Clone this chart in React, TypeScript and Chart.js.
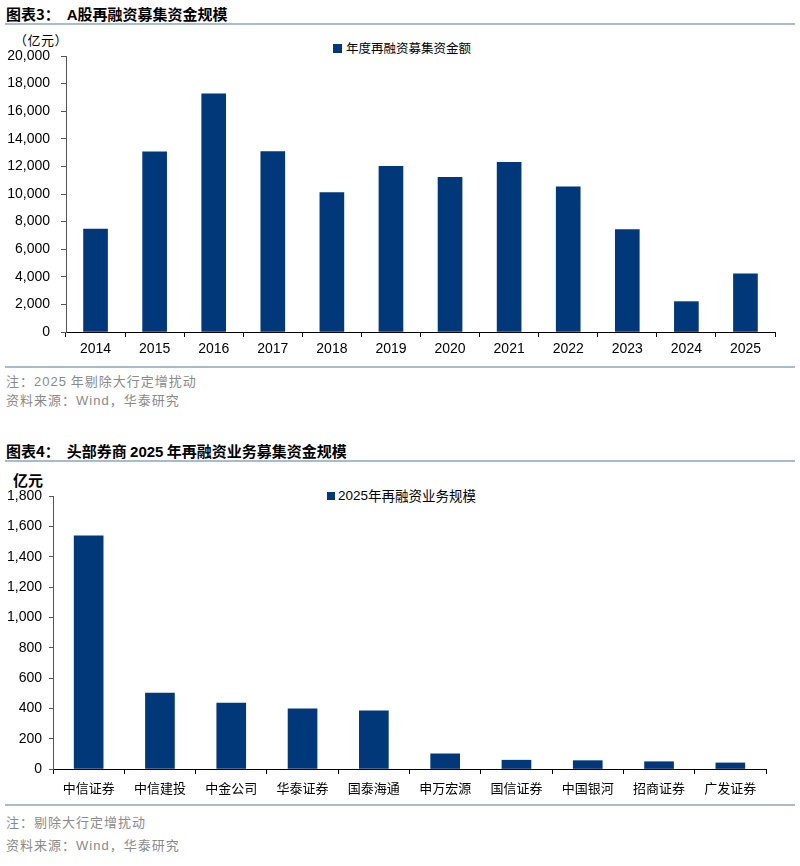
import React, { useEffect, useRef } from "react";
import { Chart, registerables } from "chart.js";

Chart.register(...registerables);

const years = ["2014", "2015", "2016", "2017", "2018", "2019", "2020", "2021", "2022", "2023", "2024", "2025"];
const refinancing = [7460, 13050, 17250, 13080, 10100, 12000, 11200, 12300, 10520, 7420, 2200, 4220];
const yTicks1 = [0, 2000, 4000, 6000, 8000, 10000, 12000, 14000, 16000, 18000, 20000];

const brokers = ["中信证券", "中信建投", "中金公司", "华泰证券", "国泰海通", "申万宏源", "国信证券", "中国银河", "招商证券", "广发证券"];
const brokerScale = [1538, 500, 434, 396, 383, 100, 58, 55, 48, 40];
const yTicks2 = [0, 200, 400, 600, 800, 1000, 1200, 1400, 1600, 1800];

const BAR = "#003879";
const CJK = '"Noto Sans CJK SC", "Liberation Sans", sans-serif';
const NUM = '"Liberation Sans", Arial, sans-serif';
const RULE = "#A7BCD1";
const NOTE = "#8A8A8A";

type ChartProps = {
  labels: string[];
  values: number[];
  label: string;
  ticks: number[];
  top: number;
  height: number;
  pad: { top: number; bottom: number; left: number; right: number };
  yWidth: number;
  xHeight: number;
  barThickness: number;
  xFont: { family: string; size: number };
  xPad: number;
  yPad: number;
  yTickLen: number;
};

function BarChart(p: ChartProps) {
  const ref = useRef<HTMLCanvasElement | null>(null);
  useEffect(() => {
    if (!ref.current) return;
    const max = p.ticks[p.ticks.length - 1];
    const chart = new Chart(ref.current, {
      type: "bar",
      data: {
        labels: p.labels,
        datasets: [
          {
            label: p.label,
            data: p.values,
            backgroundColor: BAR,
            borderWidth: 0,
            barThickness: p.barThickness,
          },
        ],
      },
      options: {
        animation: false,
        responsive: false,
        maintainAspectRatio: false,
        layout: { padding: p.pad },
        plugins: { legend: { display: false }, tooltip: { enabled: false } },
        scales: {
          x: {
            grid: {
              display: true,
              offset: true,
              drawOnChartArea: false,
              drawTicks: true,
              tickLength: 5,
              color: "#000",
            },
            border: { display: true, color: "#000", width: 1 },
            ticks: { color: "#000", font: p.xFont, padding: p.xPad, maxRotation: 0, autoSkip: false },
            afterFit: (s: any) => {
              s.height = p.xHeight;
            },
          },
          y: {
            min: 0,
            max: max,
            afterBuildTicks: (s: any) => {
              s.ticks = p.ticks.map((v) => ({ value: v }));
            },
            grid: {
              display: true,
              drawOnChartArea: false,
              drawTicks: true,
              tickLength: p.yTickLen,
              color: "#555",
            },
            border: { display: true, color: "#555", width: 1 },
            ticks: {
              color: "#000",
              font: { family: NUM, size: 14 },
              padding: p.yPad,
              callback: (v: any) => Number(v).toLocaleString("en-US"),
            },
            afterFit: (s: any) => {
              s.width = p.yWidth;
            },
          },
        },
      },
    });
    return () => chart.destroy();
  }, []);
  return (
    <canvas
      ref={ref}
      width={800}
      height={p.height}
      style={{ position: "absolute", left: 0, top: p.top, width: 800, height: p.height }}
    />
  );
}

const abs = (top: number, left: number, extra: React.CSSProperties = {}): React.CSSProperties => ({
  position: "absolute",
  top,
  left,
  whiteSpace: "nowrap",
  ...extra,
});

const noteStyle: React.CSSProperties = { fontFamily: CJK, fontSize: 13, lineHeight: "18px", color: NOTE, letterSpacing: 1 };

export default function App() {
  return (
    <div style={{ position: "absolute", left: 0, top: 0, width: 800, height: 866, background: "#fff", overflow: "hidden" }}>
      <div style={abs(4, 6, { fontFamily: CJK, fontWeight: 700, fontSize: 15, lineHeight: "20px", color: "#000" })}>
        图表3：&nbsp;&nbsp;<span style={{ fontFamily: NUM }}>A</span>股再融资募集资金规模
      </div>
      <div style={abs(23, 5, { width: 790, height: 2, background: RULE })} />
      <div style={abs(31, 14, { fontFamily: CJK, fontSize: 13, lineHeight: "18px", color: "#000", letterSpacing: 0.5 })}>（亿元）</div>
      <div style={abs(40, 333, { fontFamily: CJK, fontSize: 12.5, lineHeight: "16px", color: "#000", display: "flex", alignItems: "center" })}>
        <span style={{ display: "inline-block", width: 9, height: 9, background: BAR, marginRight: 4 }} />
        年度再融资募集资金额
      </div>
      <BarChart
        labels={years}
        values={refinancing}
        label="年度再融资募集资金额"
        ticks={yTicks1}
        top={0}
        height={370}
        pad={{ top: 56, bottom: 10, left: 0, right: 25 }}
        yWidth={66}
        xHeight={28}
        barThickness={24}
        xFont={{ family: NUM, size: 14 }}
        xPad={4}
        yPad={11}
        yTickLen={5}
      />
      <div style={abs(366, 5, { width: 790, height: 2, background: RULE })} />
      <div style={abs(372, 6, noteStyle)}>
        注：<span style={{ fontFamily: NUM }}>2025</span> 年剔除大行定增扰动
      </div>
      <div style={abs(391, 6, noteStyle)}>
        资料来源：<span style={{ fontFamily: NUM }}>Wind</span>，华泰研究
      </div>

      <div style={abs(441, 6, { fontFamily: CJK, fontWeight: 700, fontSize: 15, lineHeight: "20px", color: "#000" })}>
        图表4：&nbsp;&nbsp;头部券商 <span style={{ fontFamily: NUM }}>2025</span> 年再融资业务募集资金规模
      </div>
      <div style={abs(460, 5, { width: 790, height: 2, background: RULE })} />
      <div style={abs(470, 13, { fontFamily: CJK, fontWeight: 700, fontSize: 15, lineHeight: "20px", color: "#000" })}>亿元</div>
      <div style={abs(487, 327, { fontFamily: CJK, fontSize: 13.5, lineHeight: "17px", color: "#000", display: "flex", alignItems: "center" })}>
        <span style={{ display: "inline-block", width: 8, height: 8, background: BAR, marginRight: 3 }} />
        <span style={{ fontFamily: NUM }}>2025</span>年再融资业务规模
      </div>
      <BarChart
        labels={brokers}
        values={brokerScale}
        label="2025年再融资业务规模"
        ticks={yTicks2}
        top={470}
        height={330}
        pad={{ top: 26, bottom: 3, left: 0, right: 34 }}
        yWidth={53}
        xHeight={28}
        barThickness={29}
        xFont={{ family: CJK, size: 13 }}
        xPad={6}
        yPad={7}
        yTickLen={4}
      />
      <div style={abs(804, 5, { width: 790, height: 2, background: RULE })} />
      <div style={abs(813, 6, noteStyle)}>注：剔除大行定增扰动</div>
      <div style={abs(836, 6, noteStyle)}>
        资料来源：<span style={{ fontFamily: NUM }}>Wind</span>，华泰研究
      </div>
    </div>
  );
}
